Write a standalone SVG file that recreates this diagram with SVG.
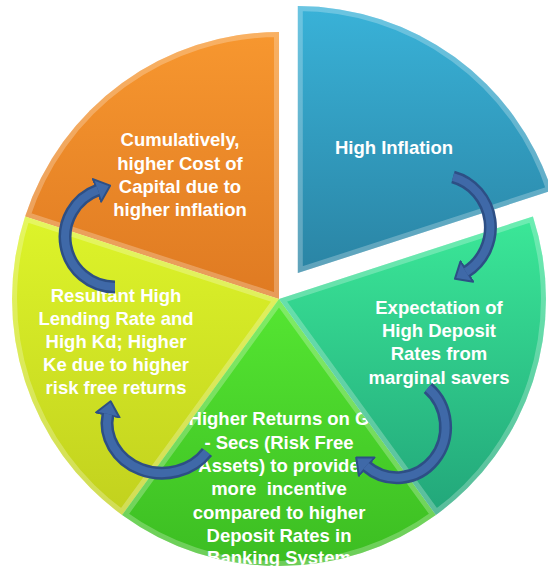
<svg xmlns="http://www.w3.org/2000/svg" width="548" height="569" viewBox="0 0 548 569">
<style>
.lbl{font-family:"Liberation Sans",Arial,sans-serif;font-weight:bold;font-size:18.5px;fill:#ffffff;text-anchor:middle}
.bevel{fill:none;stroke:#ffffff;stroke-opacity:0.25;stroke-width:10}
.arrow-out{fill:none;stroke:#2d4f85;stroke-width:13}
.arrow-in{fill:none;stroke:#3f69a8;stroke-width:8}
</style>
<defs>
<linearGradient id="gOrange" x1="0" y1="0" x2="0" y2="1"><stop offset="0" stop-color="#f7972f"/><stop offset="1" stop-color="#df7a22"/></linearGradient>
<linearGradient id="gYellow" x1="0" y1="0" x2="0" y2="1"><stop offset="0" stop-color="#ddf42a"/><stop offset="1" stop-color="#c2d11e"/></linearGradient>
<linearGradient id="gGreen" x1="0" y1="0" x2="0" y2="1"><stop offset="0" stop-color="#55e632"/><stop offset="1" stop-color="#3cbd22"/></linearGradient>
<linearGradient id="gTeal" x1="0" y1="0" x2="0" y2="1"><stop offset="0" stop-color="#3be898"/><stop offset="1" stop-color="#22a67a"/></linearGradient>
<linearGradient id="gBlue" x1="0" y1="0" x2="0" y2="1"><stop offset="0" stop-color="#39b2d8"/><stop offset="1" stop-color="#2a84a4"/></linearGradient>
<path id="pOrange" d="M279 299 L25.1 216.5 A267 267 0 0 1 279 32 Z"/>
<path id="pYellow" d="M279 299 L122.1 515 A267 267 0 0 1 25.1 216.5 Z"/>
<path id="pGreen" d="M279 299 L435.9 515 A267 267 0 0 1 122.1 515 Z"/>
<path id="pTeal" d="M279 299 L532.9 216.5 A267 267 0 0 1 435.9 515 Z"/>
<path id="pBlue" d="M297.8 273.1 L297.8 6.1 A267 267 0 0 1 551.7 190.6 Z"/>
<clipPath id="cOrange"><use href="#pOrange"/></clipPath>
<clipPath id="cYellow"><use href="#pYellow"/></clipPath>
<clipPath id="cGreen"><use href="#pGreen"/></clipPath>
<clipPath id="cTeal"><use href="#pTeal"/></clipPath>
<clipPath id="cBlue"><use href="#pBlue"/></clipPath>
<marker id="head" viewBox="0 0 16 26" refX="2" refY="13" markerWidth="16" markerHeight="26" orient="auto" markerUnits="userSpaceOnUse">
<path d="M1 1 L15 13 L1 25 Z" fill="#3f69a8" stroke="#2d4f85" stroke-width="2" stroke-linejoin="round"/>
</marker>
</defs>
<rect width="548" height="569" fill="#ffffff"/>

<g id="node-orange">
<use href="#pOrange" fill="url(#gOrange)"/>
<use href="#pOrange" class="bevel" clip-path="url(#cOrange)"/>
<text class="lbl" x="180" y="146">Cumulatively,</text>
<text class="lbl" x="180" y="169.5">higher Cost of</text>
<text class="lbl" x="180" y="192.5">Capital due to</text>
<text class="lbl" x="180" y="215.5">higher inflation</text>
</g>

<g id="node-yellow">
<use href="#pYellow" fill="url(#gYellow)"/>
<use href="#pYellow" class="bevel" clip-path="url(#cYellow)"/>
<text class="lbl" x="116" y="301.5">Resultant High</text>
<text class="lbl" x="116" y="324.5">Lending Rate and</text>
<text class="lbl" x="116" y="348">High Kd; Higher</text>
<text class="lbl" x="116" y="371">Ke due to higher</text>
<text class="lbl" x="116" y="394">risk free returns</text>
</g>

<g id="node-green">
<use href="#pGreen" fill="url(#gGreen)"/>
<use href="#pGreen" class="bevel" clip-path="url(#cGreen)"/>
<g clip-path="url(#cGreen)">
<text class="lbl" x="279" y="425">Higher Returns on G</text>
<text class="lbl" x="279" y="448.5">- Secs (Risk Free</text>
<text class="lbl" x="279" y="471.5">Assets) to provide</text>
<text class="lbl" x="279" y="495" style="white-space:pre">more  incentive</text>
<text class="lbl" x="279" y="518.5">compared to higher</text>
<text class="lbl" x="279" y="541.5">Deposit Rates in</text>
<text class="lbl" x="279" y="564">Banking System</text>
</g>
</g>

<g id="node-teal">
<use href="#pTeal" fill="url(#gTeal)"/>
<use href="#pTeal" class="bevel" clip-path="url(#cTeal)"/>
<text class="lbl" x="439" y="313.5">Expectation of</text>
<text class="lbl" x="439" y="337">High Deposit</text>
<text class="lbl" x="439" y="360">Rates from</text>
<text class="lbl" x="439" y="383.5">marginal savers</text>
</g>

<g id="node-blue">
<use href="#pBlue" fill="url(#gBlue)"/>
<use href="#pBlue" class="bevel" clip-path="url(#cBlue)"/>
<text class="lbl" x="394" y="153.5">High Inflation</text>
</g>

<g id="connectors">
<path class="arrow-out" d="M453 177 A50 52 0 0 1 466 272" marker-end="url(#head)"/>
<path class="arrow-in" d="M453 177 A50 52 0 0 1 466 272"/>
<path class="arrow-out" d="M428 388 A46 48 0 0 1 366 466" marker-end="url(#head)"/>
<path class="arrow-in" d="M428 388 A46 48 0 0 1 366 466"/>
<path class="arrow-out" d="M207 452 A55 50 0 0 1 108 414" marker-end="url(#head)"/>
<path class="arrow-in" d="M207 452 A55 50 0 0 1 108 414"/>
<path class="arrow-out" d="M115 287 A50 50 0 0 1 98 190" marker-end="url(#head)"/>
<path class="arrow-in" d="M115 287 A50 50 0 0 1 98 190"/>
</g>
</svg>
